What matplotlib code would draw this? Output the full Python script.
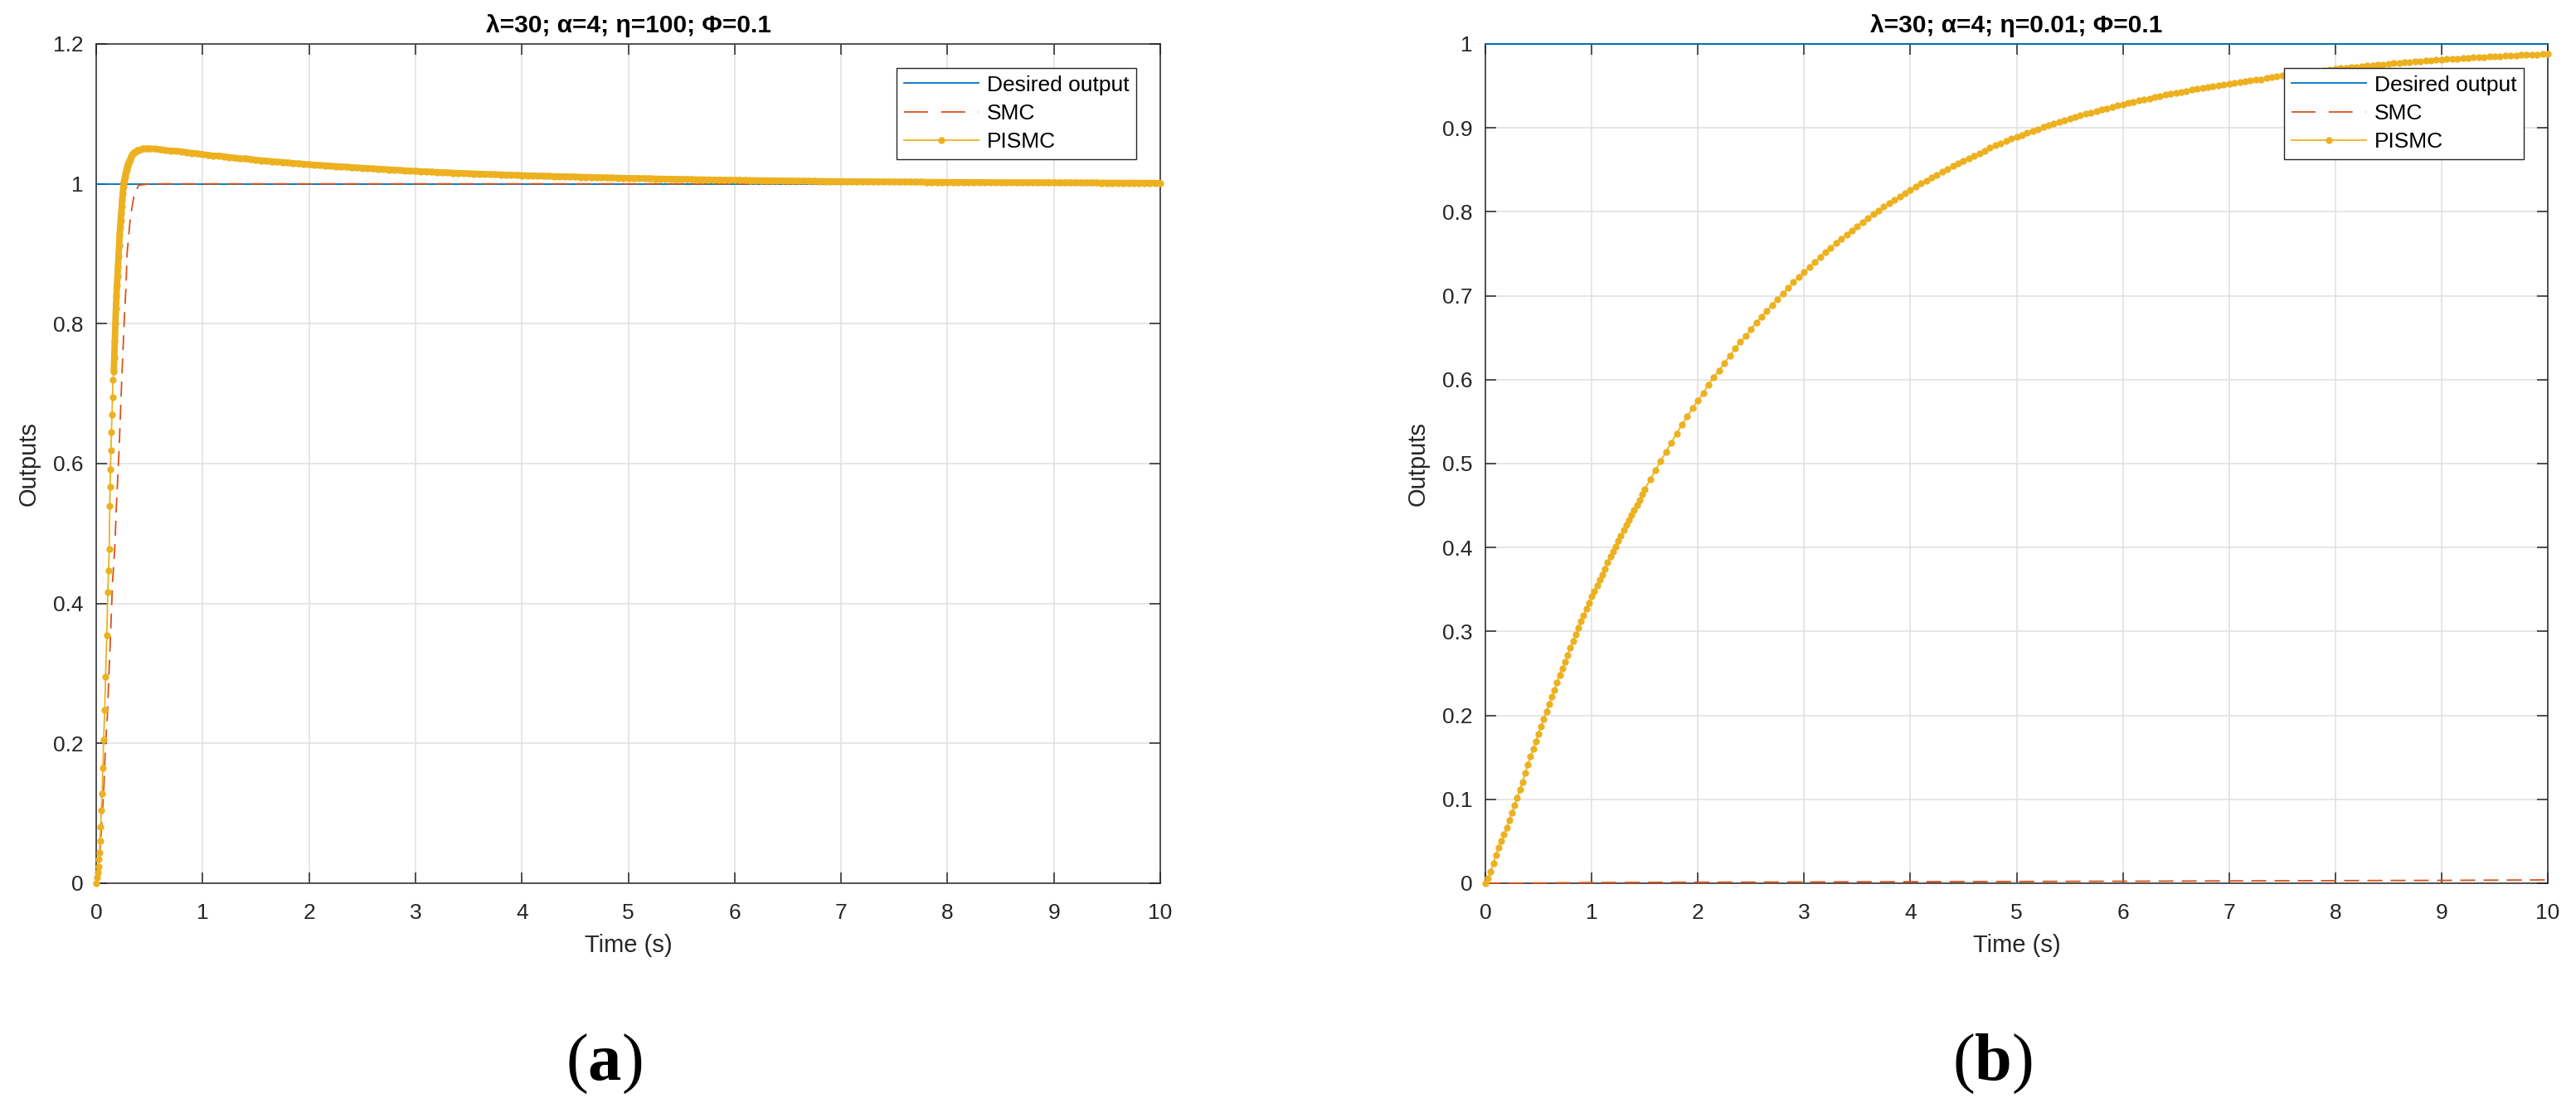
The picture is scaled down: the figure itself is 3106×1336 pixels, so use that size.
import numpy as np
import matplotlib
matplotlib.use("Agg")
import matplotlib.pyplot as plt
from matplotlib.lines import Line2D

plt.rcParams['font.family'] = ['Liberation Sans', 'DejaVu Sans']
plt.rcParams['mathtext.fontset'] = 'custom'
plt.rcParams['mathtext.rm'] = 'Liberation Serif'
plt.rcParams['mathtext.bf'] = 'Liberation Serif:bold'

# ---------------- data ----------------
legend_labels = ["Desired output", "SMC", "PISMC"]
titles = ["λ=30; α=4; η=100; Φ=0.1", "λ=30; α=4; η=0.01; Φ=0.1"]
panel_labels = [r"$\mathrm{(}\mathbf{a}\mathrm{)}$", r"$\mathrm{(}\mathbf{b}\mathrm{)}$"]
xticks = list(range(0, 11))
yticks_a = [0, 0.2, 0.4, 0.6, 0.8, 1.0, 1.2]
yticks_b = [0, 0.1, 0.2, 0.3, 0.4, 0.5, 0.6, 0.7, 0.8, 0.9, 1.0]

desired_t = [0, 10]
desired_y = [1, 1]

# (a) SMC
smc_a_t = [0, 0.02, 0.04, 0.05, 0.07, 0.085, 0.105, 0.12, 0.135, 0.153, 0.175, 0.19,
           0.215, 0.24, 0.265, 0.28, 0.29, 0.317, 0.34, 0.36, 0.40, 0.5, 1, 2, 3, 4, 5,
           6, 7, 8, 9, 10]
smc_a_y = [0, 0.02, 0.055, 0.08, 0.13, 0.19, 0.24, 0.30, 0.355, 0.43, 0.48, 0.54,
           0.62, 0.72, 0.81, 0.853, 0.90, 0.945, 0.97, 0.986, 0.998, 1.0, 1.0, 1.0, 1.0,
           1.0, 1.0, 1.0, 1.0, 1.0, 1.0, 1.0]

# (a) PISMC : early sparse samples
pismc_a_t_early = [0, 0.010, 0.018, 0.021, 0.026, 0.031, 0.036, 0.042, 0.049, 0.055,
                   0.062, 0.070, 0.080, 0.088, 0.099, 0.109, 0.116, 0.122, 0.127, 0.130,
                   0.135, 0.138, 0.143, 0.148, 0.153, 0.158]
pismc_a_y_early = [0, 0.008, 0.016, 0.024, 0.034, 0.044, 0.061, 0.081, 0.104, 0.128,
                   0.165, 0.205, 0.248, 0.295, 0.354, 0.416, 0.447, 0.478, 0.540, 0.567,
                   0.592, 0.619, 0.645, 0.670, 0.695, 0.720]
# (a) PISMC : dense overshoot region
pismc_a_t_mid = [0.165, 0.170, 0.175, 0.180, 0.185, 0.190, 0.195, 0.200, 0.205, 0.210,
                 0.215, 0.220, 0.225, 0.230, 0.235, 0.240, 0.245, 0.250, 0.255, 0.260,
                 0.265, 0.270, 0.275, 0.280, 0.285, 0.290, 0.295, 0.300, 0.310, 0.320,
                 0.330, 0.340, 0.350, 0.360, 0.370, 0.380, 0.390, 0.400, 0.420, 0.440,
                 0.460, 0.480, 0.500]
pismc_a_y_mid = [0.732, 0.752, 0.776, 0.800, 0.822, 0.840, 0.855, 0.868, 0.882, 0.897,
                 0.912, 0.927, 0.938, 0.948, 0.958, 0.967, 0.977, 0.987, 0.996, 1.002,
                 1.006, 1.010, 1.014, 1.017, 1.020, 1.023, 1.026, 1.028, 1.032, 1.035,
                 1.039, 1.042, 1.044, 1.045, 1.046, 1.047, 1.048, 1.048, 1.049, 1.050,
                 1.050, 1.050, 1.050]
# (a) PISMC : slow decay, samples every 0.05 s from 0.55 s to 10 s
pismc_a_y_late = [
    1.0500, 1.0490, 1.0480, 1.0470, 1.0470, 1.0460, 1.0450, 1.0440, 1.0430, 1.0420,
    1.0410, 1.0400, 1.0400, 1.0390, 1.0380, 1.0370, 1.0360, 1.0360, 1.0350, 1.0340,
    1.0333, 1.0327, 1.0320, 1.0314, 1.0308, 1.0301, 1.0295, 1.0288, 1.0282, 1.0275,
    1.0270, 1.0265, 1.0260, 1.0255, 1.0250, 1.0245, 1.0240, 1.0235, 1.0230, 1.0225,
    1.0221, 1.0216, 1.0212, 1.0207, 1.0203, 1.0198, 1.0194, 1.0189, 1.0185, 1.0180,
    1.0177, 1.0173, 1.0170, 1.0166, 1.0163, 1.0160, 1.0156, 1.0153, 1.0149, 1.0146,
    1.0143, 1.0141, 1.0138, 1.0136, 1.0133, 1.0130, 1.0128, 1.0125, 1.0123, 1.0120,
    1.0118, 1.0116, 1.0113, 1.0111, 1.0109, 1.0107, 1.0105, 1.0102, 1.0100, 1.0098,
    1.0096, 1.0094, 1.0093, 1.0091, 1.0089, 1.0087, 1.0085, 1.0084, 1.0082, 1.0080,
    1.0079, 1.0077, 1.0076, 1.0074, 1.0073, 1.0071, 1.0070, 1.0068, 1.0067, 1.0065,
    1.0064, 1.0062, 1.0061, 1.0060, 1.0059, 1.0057, 1.0056, 1.0055, 1.0053, 1.0052,
    1.0051, 1.0050, 1.0049, 1.0048, 1.0047, 1.0046, 1.0045, 1.0044, 1.0043, 1.0042,
    1.0041, 1.0040, 1.0040, 1.0039, 1.0038, 1.0037, 1.0036, 1.0036, 1.0035, 1.0034,
    1.0033, 1.0033, 1.0032, 1.0032, 1.0031, 1.0030, 1.0030, 1.0029, 1.0029, 1.0028,
    1.0028, 1.0027, 1.0027, 1.0026, 1.0026, 1.0025, 1.0025, 1.0024, 1.0024, 1.0023,
    1.0023, 1.0022, 1.0022, 1.0022, 1.0021, 1.0021, 1.0020, 1.0020, 1.0020, 1.0019,
    1.0019, 1.0019, 1.0018, 1.0018, 1.0018, 1.0017, 1.0017, 1.0017, 1.0016, 1.0016,
    1.0016, 1.0015, 1.0015, 1.0015, 1.0015, 1.0014, 1.0014, 1.0014, 1.0013, 1.0013,
    1.0013, 1.0013, 1.0012, 1.0012, 1.0012, 1.0012, 1.0011, 1.0011, 1.0011, 1.0011]
pismc_a_t_late = np.round(np.linspace(0.55, 10.0, len(pismc_a_y_late)), 3)

# (b) SMC
smc_b_t = [0, 0.5, 1, 1.5, 2, 2.5, 3, 3.5, 4, 4.5, 5, 5.5, 6, 6.5, 7, 7.5, 8, 8.5,
           9, 9.5, 10]
smc_b_y = [0, 0.0003, 0.0008, 0.0010, 0.0012, 0.0013, 0.0015, 0.0017, 0.0018, 0.0020,
           0.0021, 0.0023, 0.0024, 0.0026, 0.0028, 0.0030, 0.0031, 0.0033, 0.0034,
           0.0037, 0.0040]

# (b) PISMC : samples every 0.025 s up to 1.5 s
pismc_b_y_early = [
    0.000, 0.006, 0.014, 0.024, 0.034, 0.042, 0.050, 0.058, 0.066, 0.075,
    0.084, 0.093, 0.102, 0.112, 0.121, 0.131, 0.141, 0.151, 0.160, 0.169,
    0.178, 0.187, 0.196, 0.205, 0.213, 0.222, 0.230, 0.239, 0.248, 0.256,
    0.264, 0.272, 0.281, 0.289, 0.296, 0.304, 0.312, 0.319, 0.327, 0.334,
    0.342, 0.348, 0.355, 0.362, 0.368, 0.375, 0.382, 0.389, 0.395, 0.401,
    0.408, 0.414, 0.421, 0.427, 0.433, 0.439, 0.445, 0.451, 0.457, 0.463,
    0.469]
pismc_b_t_early = np.round(np.linspace(0.0, 1.5, len(pismc_b_y_early)), 3)
# (b) PISMC : samples every 0.05 s from 1.55 s to 10 s
pismc_b_y_late = [
    0.481, 0.492, 0.503, 0.514, 0.525, 0.536, 0.546, 0.556, 0.566, 0.575,
    0.584, 0.594, 0.603, 0.611, 0.620, 0.628, 0.637, 0.645, 0.652, 0.660,
    0.668, 0.675, 0.682, 0.689, 0.696, 0.703, 0.709, 0.716, 0.722, 0.728,
    0.734, 0.740, 0.746, 0.752, 0.757, 0.763, 0.768, 0.773, 0.778, 0.783,
    0.788, 0.792, 0.797, 0.801, 0.806, 0.810, 0.814, 0.818, 0.822, 0.826,
    0.830, 0.834, 0.837, 0.841, 0.844, 0.848, 0.851, 0.855, 0.858, 0.861,
    0.864, 0.867, 0.870, 0.873, 0.876, 0.879, 0.881, 0.884, 0.887, 0.889,
    0.891, 0.894, 0.896, 0.898, 0.901, 0.903, 0.905, 0.907, 0.909, 0.911,
    0.913, 0.915, 0.917, 0.918, 0.920, 0.922, 0.923, 0.925, 0.927, 0.928,
    0.930, 0.931, 0.933, 0.934, 0.935, 0.937, 0.938, 0.940, 0.941, 0.942,
    0.943, 0.944, 0.946, 0.947, 0.948, 0.949, 0.950, 0.951, 0.952, 0.953,
    0.954, 0.955, 0.956, 0.957, 0.958, 0.958, 0.959, 0.960, 0.961, 0.962,
    0.963, 0.963, 0.964, 0.965, 0.966, 0.966, 0.967, 0.968, 0.969, 0.970,
    0.971, 0.971, 0.972, 0.972, 0.973, 0.974, 0.974, 0.975, 0.975, 0.976,
    0.977, 0.977, 0.978, 0.978, 0.979, 0.979, 0.980, 0.980, 0.981, 0.981,
    0.982, 0.982, 0.982, 0.983, 0.983, 0.984, 0.984, 0.984, 0.985, 0.985,
    0.985, 0.986, 0.986, 0.986, 0.987, 0.987, 0.987, 0.987, 0.988, 0.988]
pismc_b_t_late = np.round(np.linspace(1.55, 10.0, len(pismc_b_y_late)), 3)

pismc_a_t = list(pismc_a_t_early) + list(pismc_a_t_mid) + list(pismc_a_t_late)
pismc_a_y = list(pismc_a_y_early) + list(pismc_a_y_mid) + list(pismc_a_y_late)
pismc_b_t = list(pismc_b_t_early) + list(pismc_b_t_late)
pismc_b_y = list(pismc_b_y_early) + list(pismc_b_y_late)
# the part of (a) where the dense markers merge into a solid band
band_a_t = list(pismc_a_t_mid) + list(pismc_a_t_late)
band_a_y = list(pismc_a_y_mid) + list(pismc_a_y_late)

# ---------------- style ----------------
C_DES = '#0072BD'
C_SMC = '#D95319'
C_PIS = '#EDB120'
AX_C = '#262626'
GRID_C = '#DFDFDF'
LW = 1.3
DASH = (10.0, 5.5)

W, H = 3106, 1336
fig = plt.figure(figsize=(W / 100, H / 100), dpi=100)
fig.patch.set_facecolor('white')

ax_a = fig.add_axes([116 / W, 1 - 1065 / H, 1283 / W, 1012 / H])
ax_b = fig.add_axes([1791 / W, 1 - 1065 / H, 1281 / W, 1012 / H])

panels = [
    (ax_a, smc_a_t, smc_a_y, pismc_a_t, pismc_a_y, yticks_a, 1.2, titles[0], panel_labels[0], 728),
    (ax_b, smc_b_t, smc_b_y, pismc_b_t, pismc_b_y, yticks_b, 1.0, titles[1], panel_labels[1], 2402),
]

for i, (ax, st, sy, pt, py, yt, ymax, ttl, plab, plx) in enumerate(panels):
    ax.set_axisbelow(True)
    ax.grid(True, color=GRID_C, linewidth=1.1)
    l1, = ax.plot(desired_t, desired_y, color=C_DES, lw=LW, zorder=3, clip_on=False)
    l2, = ax.plot(st, sy, color=C_SMC, lw=LW, dashes=DASH, zorder=4, clip_on=False)
    l3, = ax.plot(pt, py, color=C_PIS, lw=LW, marker='o', ms=6.0, mew=0, zorder=5,
                  clip_on=False)
    if i == 0:
        ax.plot(band_a_t, band_a_y, color=C_PIS, lw=5.6, zorder=5,
                solid_capstyle='round', solid_joinstyle='round')
    ax.set_xlim(0, 10)
    ax.set_ylim(0, ymax)
    ax.set_xticks(xticks)
    ax.set_yticks(yt)
    ax.set_yticklabels([('%g' % v) for v in yt])
    ax.tick_params(axis='both', which='both', direction='in', length=9.2, width=1.1,
                   color=AX_C, labelcolor=AX_C, labelsize=19, top=True, right=True)
    ax.tick_params(axis='x', pad=17)
    ax.tick_params(axis='y', pad=11)
    for s in ax.spines.values():
        s.set_color(AX_C)
        s.set_linewidth(1.1)
    ax.set_xlabel('Time (s)', fontsize=21, color=AX_C, labelpad=10)
    ax.set_ylabel('Outputs', fontsize=21, color=AX_C, labelpad=11)
    ax.set_title(ttl, fontsize=21.5, fontweight='bold', color='black', pad=10)
    proxy_smc = Line2D([], [], color=C_SMC, lw=LW, dashes=(16.0, 8.8))
    leg = ax.legend([l1, proxy_smc, l3], legend_labels, loc='upper right', fontsize=19,
                    handlelength=3.4, handletextpad=0.38, borderpad=0.33,
                    labelspacing=0.38, borderaxespad=1.1, numpoints=1,
                    fancybox=False, framealpha=1, edgecolor=AX_C)
    leg.get_frame().set_linewidth(1.0)
    leg.set_zorder(10)
    fig.text(plx / W, 1 - 1302 / H, plab, fontsize=58, ha='center', va='baseline',
             color='black')

fig.savefig('out.png', dpi=100, facecolor='white')
